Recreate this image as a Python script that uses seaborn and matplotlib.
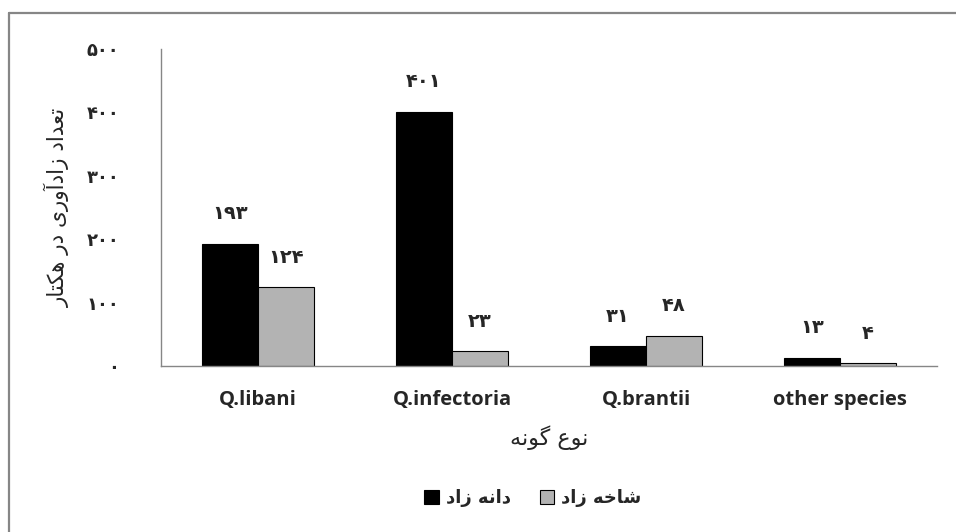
#!/usr/bin/env python3

import matplotlib
matplotlib.use("Agg")
import matplotlib.pyplot as plt
from matplotlib.lines import Line2D
from matplotlib.ticker import FixedLocator
import pandas as pd
import seaborn as sns

categories = ["Q.libani", "Q.infectoria", "Q.brantii", "other species"]
seed_born = [193, 401, 31, 13]      # دانه زاد
sprout_born = [124, 23, 48, 4]      # شاخه زاد
series_names = ["دانه زاد", "شاخه زاد"]
y_ticks = [0, 100, 200, 300, 400, 500]
y_label = "تعداد زادآوری در هکتار"
x_label = "نوع گونه"

# matplotlib has no arabic shaping, so pick presentation forms by hand
FORMS = {  # isolated, final, initial, medial
    "ا": ("\uFE8D", "\uFE8E", None, None),
    "آ": ("\uFE81", "\uFE82", None, None),
    "د": ("\uFEA9", "\uFEAA", None, None),
    "ر": ("\uFEAD", "\uFEAE", None, None),
    "ز": ("\uFEAF", "\uFEB0", None, None),
    "و": ("\uFEED", "\uFEEE", None, None),
    "ت": ("\uFE95", "\uFE96", "\uFE97", "\uFE98"),
    "ع": ("\uFEC9", "\uFECA", "\uFECB", "\uFECC"),
    "ه": ("\uFEE9", "\uFEEA", "\uFEEB", "\uFEEC"),
    "ن": ("\uFEE5", "\uFEE6", "\uFEE7", "\uFEE8"),
    "ش": ("\uFEB5", "\uFEB6", "\uFEB7", "\uFEB8"),
    "خ": ("\uFEA5", "\uFEA6", "\uFEA7", "\uFEA8"),
    "ی": ("\uFBFC", "\uFBFD", "\uFBFE", "\uFBFF"),
    "ک": ("\uFB8E", "\uFB8F", "\uFB90", "\uFB91"),
    "گ": ("\uFB92", "\uFB93", "\uFB94", "\uFB95"),
}


def rtl(s):
    out = []
    for i, c in enumerate(s):
        if c not in FORMS:
            out.append(c)
            continue
        prev = s[i - 1] if i > 0 else " "
        nxt = s[i + 1] if i + 1 < len(s) else " "
        joins_prev = prev in FORMS and FORMS[prev][2] is not None
        joins_next = FORMS[c][2] is not None and nxt in FORMS
        iso, fin, ini, med = FORMS[c]
        if joins_prev and joins_next:
            out.append(med)
        elif joins_prev:
            out.append(fin)
        elif joins_next:
            out.append(ini)
        else:
            out.append(iso)
    return "".join(reversed(out))


def fa_digits(n):
    return str(n).translate(str.maketrans("0123456789", "۰۱۲۳۴۵۶۷۸۹"))


df = pd.DataFrame({
    "species": categories * 2,
    "count": seed_born + sprout_born,
    "type": [series_names[0]] * 4 + [series_names[1]] * 4,
})

sns.set_style("white")
plt.rcParams["font.family"] = ["DejaVu Sans"]

fig = plt.figure(figsize=(9.56, 5.32), dpi=100)
ax = fig.add_axes([161 / 956, 1 - 366 / 532, 776 / 956, 317 / 532])

sns.barplot(data=df, x="species", y="count", hue="type", order=categories,
            hue_order=series_names, palette=["black", "#b3b3b3"], width=0.578,
            edgecolor="black", linewidth=0.8, saturation=1, ax=ax, legend=False)

for cont in ax.containers:
    ax.bar_label(cont, labels=[fa_digits(int(v)) for v in cont.datavalues],
                 padding=15, fontsize=14, fontweight="bold")

ax.set_ylim(0, 500)
ax.set_xlim(-0.5, 3.5)
ax.set_yticks(y_ticks)
ax.set_yticklabels([fa_digits(v) for v in y_ticks], fontsize=13, fontweight="bold")
ax.xaxis.set_minor_locator(FixedLocator([-0.5, 0.5, 1.5, 2.5, 3.5]))
ax.tick_params(axis="x", which="major", length=0, pad=17, labelsize=14.5)
ax.tick_params(axis="x", which="minor", length=5, color="#868686", width=1)
ax.tick_params(axis="y", length=10, color="#868686", width=1, pad=20)
for t in ax.get_xticklabels():
    t.set_fontfamily("Open Sans")
    t.set_fontweight("bold")

sns.despine(ax=ax)
for side in ("left", "bottom"):
    ax.spines[side].set_color("#868686")
    ax.spines[side].set_linewidth(1)

ax.set_xlabel(rtl(x_label), fontsize=16, labelpad=11)
ax.set_ylabel(rtl(y_label), fontsize=15.5, labelpad=12)

handles = [plt.Rectangle((0, 0), 1, 1, facecolor=c, edgecolor="black", linewidth=0.8)
           for c in ["black", "#b3b3b3"]]
fig.legend(handles, [rtl(series_names[0]), rtl(series_names[1])], ncol=2,
           frameon=False, loc="center",
           bbox_to_anchor=(533 / 956, 1 - 498 / 532),
           prop={"weight": "bold", "size": 13}, handlelength=0.8,
           handleheight=0.8, handletextpad=0.4, columnspacing=1.6)

# chart area border (only top and left visible)
fig.add_artist(Line2D([9 / 956, 1], [1 - 12.5 / 532] * 2, color="#868686", lw=1.6))
fig.add_artist(Line2D([9 / 956] * 2, [0, 1 - 12.5 / 532], color="#868686", lw=1.6))

fig.savefig("out.png", dpi=100)
